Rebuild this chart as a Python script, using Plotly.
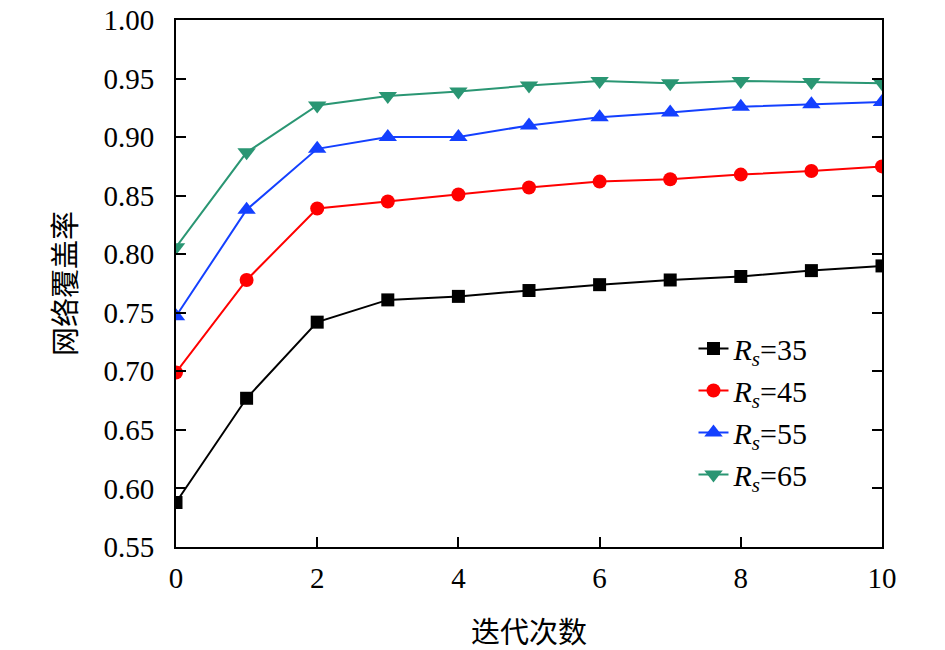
import plotly.graph_objects as go

iterations = list(range(11))
rs35 = [0.588, 0.677, 0.742, 0.761, 0.764, 0.769, 0.774, 0.778, 0.781, 0.786, 0.790]
rs45 = [0.699, 0.778, 0.839, 0.845, 0.851, 0.857, 0.862, 0.864, 0.868, 0.871, 0.875]
rs55 = [0.747, 0.838, 0.890, 0.900, 0.900, 0.910, 0.917, 0.921, 0.926, 0.928, 0.930]
rs65 = [0.806, 0.887, 0.927, 0.935, 0.939, 0.944, 0.948, 0.946, 0.948, 0.947, 0.946]
y_ticks = [0.55, 0.60, 0.65, 0.70, 0.75, 0.80, 0.85, 0.90, 0.95, 1.00]

series = [
    ("<i>R<sub>s</sub></i>=35", rs35, "black", "square", 13),
    ("<i>R<sub>s</sub></i>=45", rs45, "#ff0000", "circle", 14),
    ("<i>R<sub>s</sub></i>=55", rs55, "#1440ff", "triangle-up", 16),
    ("<i>R<sub>s</sub></i>=65", rs65, "#2a9673", "triangle-down", 16),
]

serif = "Liberation Serif, Times New Roman, serif"
cjk = "Noto Sans CJK SC"

fig = go.Figure()
for name, vals, color, symbol, size in series:
    fig.add_scatter(x=iterations, y=vals, name=name, mode="lines+markers",
                    line=dict(color=color, width=2),
                    marker=dict(symbol=symbol, size=size, color=color))

axis_common = dict(showgrid=False, zeroline=False, showline=True,
                   linecolor="black", linewidth=2, ticks="inside",
                   ticklen=10, tickwidth=2, tickcolor="black",
                   ticklabeloverflow="allow", automargin=False,
                   tickfont=dict(family=serif, size=29, color="black"))

# page body has an 8px margin, so margins are shifted to keep the frame in place
fig.update_layout(
    width=945, height=650,
    margin=dict(l=168, r=71, t=12, b=111),
    paper_bgcolor="white", plot_bgcolor="white",
    xaxis=dict(range=[0, 10], dtick=2, mirror=True, ticklabelstandoff=4,
               title=dict(text="迭代次数", font=dict(family=cjk, size=29, color="black"), standoff=30),
               **axis_common),
    yaxis=dict(range=[0.55, 1.0], tickvals=y_ticks, tickformat=".2f", mirror="ticks",
               ticklabelstandoff=14,
               title=dict(text="网络覆盖率", font=dict(family=cjk, size=29, color="black"), standoff=18),
               **axis_common),
    legend=dict(x=0.733, y=0.426, xanchor="left", yanchor="top",
                bgcolor="rgba(0,0,0,0)",
                font=dict(family=serif, size=30, color="black")),
)

fig.write_html("out.html")
